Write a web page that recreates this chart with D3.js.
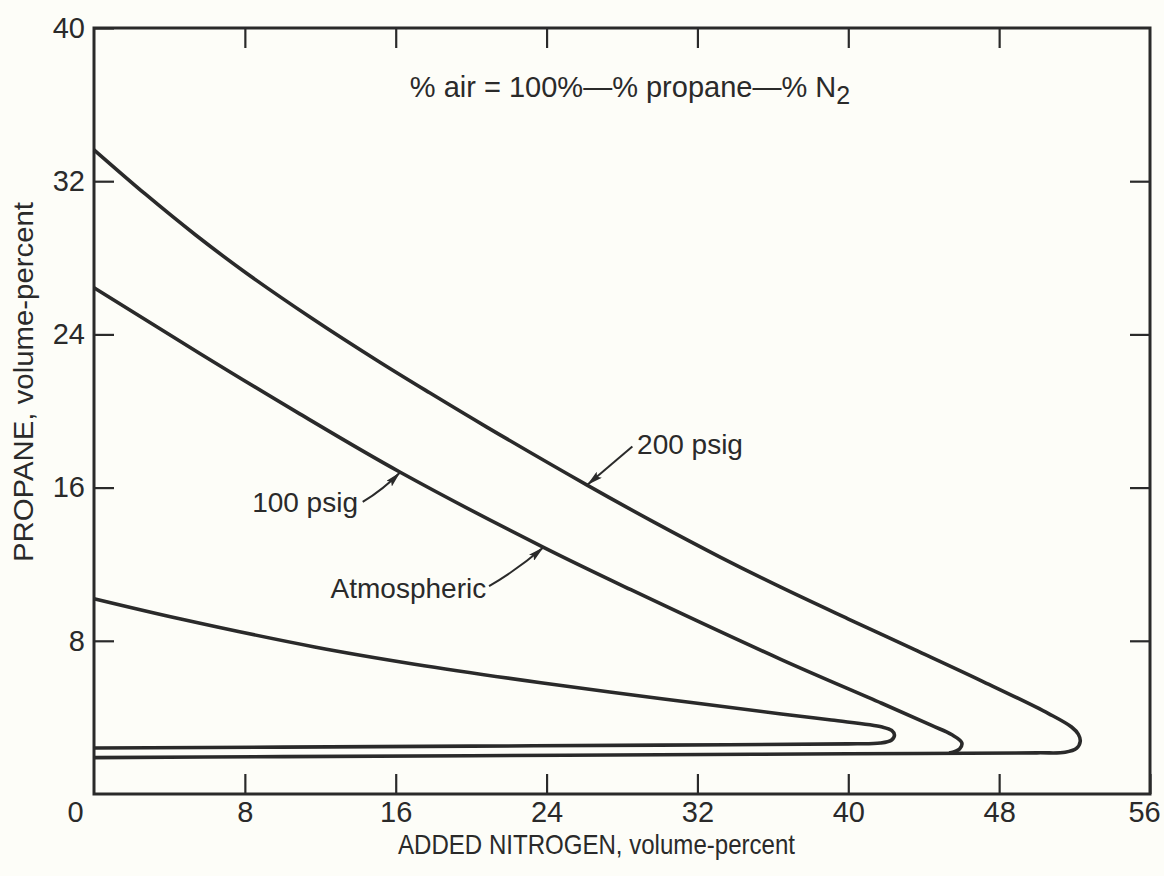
<!DOCTYPE html>
<html>
<head>
<meta charset="utf-8">
<script src="https://cdn.jsdelivr.net/npm/d3@7"></script>
<style>
  html, body { margin: 0; padding: 0; background: #fdfdf8; }
  svg { display: block; }
  text { font-family: "Liberation Sans", Arial, sans-serif; fill: #2a2a2a; }
</style>
</head>
<body>
<svg id="chart" width="1164" height="876"></svg>
<script>
// ---------------- DATA ----------------
// Each flammability envelope is traced from the upper limit at 0 % N2,
// round the nose, and back along the lower limit to 0 % N2.
const atmN2 = [0, 4.6, 11.7, 17.0, 23.7, 30.0, 36.45, 39.1, 41.8, 42.3, 42.45, 42.3, 41.7, 40, 30, 20, 10, 0];
const atmC3 = [10.2, 9.14, 7.68, 6.78, 5.81, 4.99, 4.18, 3.86, 3.5, 3.32, 3.08, 2.82, 2.66, 2.62, 2.55, 2.5, 2.45, 2.4];

const p100N2 = [0, 5.59, 10.91, 16.24, 23.84, 28.47, 36.45, 41.77, 44.42, 45.5, 46.02, 45.9, 45.35];
const p100C3 = [26.44, 23.02, 19.85, 16.8, 12.88, 10.67, 7.02, 4.74, 3.58, 3.09, 2.68, 2.35, 2.14];

const p200N2 = [0, 2.73, 5.39, 8.05, 11.57, 15.14, 17.8, 20.83, 26.15, 29.67, 33.23, 36.42, 39.98, 43.49, 47.06, 50.62, 51.84, 52.2, 52.3, 52.1, 51.5, 50, 40, 30, 20, 10, 0];
const p200C3 = [33.64, 31.32, 29.19, 27.22, 24.83, 22.56, 20.95, 19.16, 16.13, 14.21, 12.36, 10.8, 9.15, 7.55, 5.91, 4.2, 3.5, 3.12, 2.75, 2.38, 2.18, 2.15, 2.1, 2.05, 2.0, 1.95, 1.9];

const xTicks = [0, 8, 16, 24, 32, 40, 48, 56];
const yTicks = [8, 16, 24, 32, 40];

// annotations: label, label position (N2, C3), arrow tail, arrow tip (on the curve)
const labels   = ["200 psig", "100 psig", "Atmospheric"];
const labelN2  = [28.8, 14.0, 20.8];
const labelC3  = [17.75, 14.75, 10.25];
const anchors  = ["start", "end", "end"];
const tailN2   = [28.55, 14.25, 20.95];
const tailC3   = [18.15, 15.25, 10.85];
const tipN2    = [26.15, 16.24, 23.84];
const tipC3    = [16.13, 16.8, 12.88];

const titleText = "% air = 100%—% propane—% N";
const xTitle = "ADDED NITROGEN, volume-percent";
const yTitle = "PROPANE, volume-percent";

// ---------------- CHART ----------------
const svg = d3.select("#chart");
const ink = "#2a2a2a";
const L = 94, R = 1150, T = 28, B = 794;

const x = d3.scaleLinear().domain([0, 56]).range([L, R]);
const y = d3.scaleLinear().domain([0, 40]).range([B, T]);

// axes (ticks inside the frame)
const gB = svg.append("g").attr("transform", `translate(0,${B})`)
  .call(d3.axisBottom(x).tickValues(xTicks).tickSize(-20).tickPadding(7).tickFormat(d3.format("d")));
const gL = svg.append("g").attr("transform", `translate(${L},0)`)
  .call(d3.axisLeft(y).tickValues(yTicks).tickSize(-20).tickPadding(9).tickFormat(d3.format("d")));
const gT = svg.append("g").attr("transform", `translate(0,${T})`)
  .call(d3.axisTop(x).tickValues(xTicks.slice(1, -1)).tickSize(-20).tickFormat(""));
const gR = svg.append("g").attr("transform", `translate(${R},0)`)
  .call(d3.axisRight(y).tickValues(yTicks.slice(0, -1)).tickSize(-20).tickFormat(""));

[gB, gL, gT, gR].forEach(g => {
  g.select(".domain").remove();
  g.selectAll(".tick line").attr("stroke", ink).attr("stroke-width", 2.2);
  g.selectAll(".tick text").attr("fill", ink).style("font-size", "29px")
    .style("font-family", '"Liberation Sans", Arial, sans-serif');
});
// the shared origin label sits left of the corner; the last label stays inside the page
gB.selectAll(".tick").filter(d => d === 0).select("text").attr("x", -19);
gB.selectAll(".tick").filter(d => d === 0).select("line").remove();
gB.selectAll(".tick").filter(d => d === 56).select("text").attr("x", -6);

// frame
svg.append("rect")
  .attr("x", L).attr("y", T).attr("width", R - L).attr("height", B - T)
  .attr("fill", "none").attr("stroke", ink).attr("stroke-width", 3);

// curves
const line = d3.line()
  .x(d => x(d[0])).y(d => y(d[1]))
  .curve(d3.curveCatmullRom.alpha(0.5));

const series = [
  [p200N2, p200C3],
  [p100N2, p100C3],
  [atmN2, atmC3]
];
svg.append("g").selectAll("path")
  .data(series.map(s => d3.zip(s[0], s[1])))
  .join("path")
  .attr("d", line)
  .attr("fill", "none")
  .attr("stroke", ink)
  .attr("stroke-width", 3.6)
  .attr("stroke-linejoin", "round")
  .attr("stroke-linecap", "butt");

// arrowhead marker
svg.append("defs").append("marker")
  .attr("id", "arrow")
  .attr("markerUnits", "userSpaceOnUse")
  .attr("viewBox", "0 0 16 8")
  .attr("refX", 16).attr("refY", 4)
  .attr("markerWidth", 16).attr("markerHeight", 8)
  .attr("orient", "auto")
  .append("path").attr("d", "M0,0 L16,4 L0,8 L3,4 Z").attr("fill", ink);

const ann = svg.append("g");
const bows = [0, -3, -3];
labels.forEach((lab, i) => {
  const x1 = x(tailN2[i]), y1 = y(tailC3[i]);
  const x2 = x(tipN2[i]), y2 = y(tipC3[i]);
  const dx = x2 - x1, dy = y2 - y1, len = Math.hypot(dx, dy);
  const cx = (x1 + x2) / 2 + bows[i] * dy / len;
  const cy = (y1 + y2) / 2 - bows[i] * dx / len;
  ann.append("path")
    .attr("d", `M${x1},${y1} Q${cx},${cy} ${x2},${y2}`)
    .attr("fill", "none")
    .attr("stroke", ink).attr("stroke-width", 2)
    .attr("marker-end", "url(#arrow)");
  ann.append("text")
    .attr("x", x(labelN2[i])).attr("y", y(labelC3[i]))
    .attr("text-anchor", anchors[i])
    .style("font-size", "28px")
    .text(lab);
});

// formula at the top
const t = svg.append("text")
  .attr("x", 630).attr("y", 97)
  .attr("text-anchor", "middle")
  .style("font-size", "29px");
t.append("tspan").text(titleText);
t.append("tspan").attr("dy", 7).style("font-size", "25px").text("2");

// axis titles (condensed lettering as in the original)
svg.append("text")
  .attr("x", 398).attr("y", 854)
  .attr("textLength", 397).attr("lengthAdjust", "spacingAndGlyphs")
  .style("font-size", "28px")
  .text(xTitle);

svg.append("text")
  .attr("transform", "translate(33,562) rotate(-90)")
  .attr("textLength", 360).attr("lengthAdjust", "spacingAndGlyphs")
  .style("font-size", "28px")
  .text(yTitle);
</script>
</body>
</html>
